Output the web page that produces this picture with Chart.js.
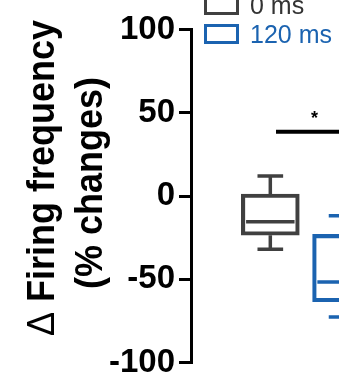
<!DOCTYPE html>
<html>
<head>
<meta charset="utf-8">
<script src="https://cdn.jsdelivr.net/npm/chart.js@4.4.1/dist/chart.umd.min.js"></script>
<style>
  html, body { margin: 0; padding: 0; background: #fff; overflow: hidden; width: 339px; height: 378px; }
  #wrap { position: relative; width: 440px; height: 390px; }
</style>
</head>
<body>
<div id="wrap"><canvas id="chart" width="440" height="390"></canvas></div>
<script>
// data
const categories = ['0 ms', '120 ms'];
const categoryX = [1, 2];
const whiskerLow = [-32, -72.7];
const boxLow = [-23.6, -63.5];
const medians = [-15.4, -51.6];
const boxHigh = [1.2, -23];
const whiskerHigh = [12, -11.8];
const yTicks = [-100, -50, 0, 50, 100];

const colors = ['#404040', '#1b63b0'];
const FONT = "'Liberation Sans', Arial, sans-serif";

// significance bar (data units)
const sigFrom = 1.08, sigTo = 3, sigY = 38.6, sigStarX = 1.62;

const boxPlugin = {
  id: 'boxExtras',
  afterDatasetsDraw(chart) {
    const { ctx, scales: { x, y } } = chart;
    const unit = x.getPixelForValue(1) - x.getPixelForValue(0);
    ctx.save();
    ctx.lineWidth = 3.5;
    categories.forEach((c, i) => {
      const cx = x.getPixelForValue(categoryX[i]);
      const half = 0.34 * unit;
      const cap = 0.18 * unit;
      ctx.strokeStyle = colors[i];
      ctx.beginPath();
      // median
      ctx.moveTo(cx - half, y.getPixelForValue(medians[i]));
      ctx.lineTo(cx + half, y.getPixelForValue(medians[i]));
      // whiskers
      ctx.moveTo(cx, y.getPixelForValue(boxHigh[i]));
      ctx.lineTo(cx, y.getPixelForValue(whiskerHigh[i]));
      ctx.moveTo(cx, y.getPixelForValue(boxLow[i]));
      ctx.lineTo(cx, y.getPixelForValue(whiskerLow[i]));
      // caps
      ctx.moveTo(cx - cap, y.getPixelForValue(whiskerHigh[i]));
      ctx.lineTo(cx + cap, y.getPixelForValue(whiskerHigh[i]));
      ctx.moveTo(cx - cap, y.getPixelForValue(whiskerLow[i]));
      ctx.lineTo(cx + cap, y.getPixelForValue(whiskerLow[i]));
      ctx.stroke();
    });

    // significance line + star
    ctx.strokeStyle = '#000';
    ctx.lineWidth = 4;
    ctx.beginPath();
    ctx.moveTo(x.getPixelForValue(sigFrom), y.getPixelForValue(sigY));
    ctx.lineTo(x.getPixelForValue(sigTo), y.getPixelForValue(sigY));
    ctx.stroke();
    ctx.fillStyle = '#000';
    ctx.font = 'bold 18px ' + FONT;
    ctx.textAlign = 'center';
    ctx.textBaseline = 'alphabetic';
    ctx.fillText('*', x.getPixelForValue(sigStarX), y.getPixelForValue(sigY) - 8);

    // legend
    ctx.lineWidth = 3;
    ctx.font = '25px ' + FONT;
    ctx.textAlign = 'left';
    categories.forEach((c, i) => {
      const top = 25.5 - 29 * (1 - i);
      ctx.strokeStyle = colors[i];
      ctx.strokeRect(205.5, top, 32, 17);
      ctx.fillStyle = i === 0 ? '#333' : colors[i];
      ctx.fillText(c, 250, top + 17.5);
    });

    // y title, two lines, rotated (glyphs a bit taller like the source)
    ctx.fillStyle = '#000';
    ctx.save();
    ctx.translate(54, 178);
    ctx.rotate(-Math.PI / 2);
    ctx.scale(1, 1.1);
    ctx.font = '36px ' + FONT;
    const wd = ctx.measureText('\u0394').width;
    ctx.font = 'bold 36px ' + FONT;
    const wr = ctx.measureText(' Firing frequency').width;
    const sx = -(wd + wr) / 2;
    ctx.font = '36px ' + FONT;
    ctx.fillText('\u0394', sx, 0);
    ctx.font = 'bold 36px ' + FONT;
    ctx.fillText(' Firing frequency', sx + wd, 0);
    ctx.restore();
    ctx.save();
    ctx.translate(102, 183);
    ctx.rotate(-Math.PI / 2);
    ctx.scale(1, 1.1);
    ctx.font = 'bold 36px ' + FONT;
    ctx.textAlign = 'center';
    ctx.fillText('(% changes)', 0, 0);
    ctx.restore();

    ctx.restore();
  }
};

new Chart(document.getElementById('chart'), {
  type: 'bar',
  data: {
    datasets: [{
      data: categories.map((c, i) => ({ x: categoryX[i], y: [boxLow[i], boxHigh[i]] })),
      backgroundColor: 'rgba(0,0,0,0)',
      borderColor: colors,
      borderWidth: 3.5,
      borderSkipped: false,
      barThickness: 58
    }]
  },
  options: {
    responsive: false,
    animation: false,
    layout: { padding: { left: 0, top: 29.5, right: 7, bottom: 27.5 } },
    plugins: { legend: { display: false }, tooltip: { enabled: false } },
    scales: {
      x: { type: 'linear', display: false, min: 0.17, max: 3.0 },
      y: {
        min: -100,
        max: 100,
        afterBuildTicks: s => { s.ticks = yTicks.map(v => ({ value: v })); },
        afterFit: s => { s.width = 191; },
        border: { display: true, color: '#000', width: 3 },
        grid: { display: true, drawOnChartArea: false, color: '#000', lineWidth: 3, tickLength: 12 },
        ticks: { color: '#000', padding: 4, font: { family: FONT, size: 33, weight: 'bold', lineHeight: 1 } }
      }
    }
  },
  plugins: [boxPlugin]
});
</script>
</body>
</html>
